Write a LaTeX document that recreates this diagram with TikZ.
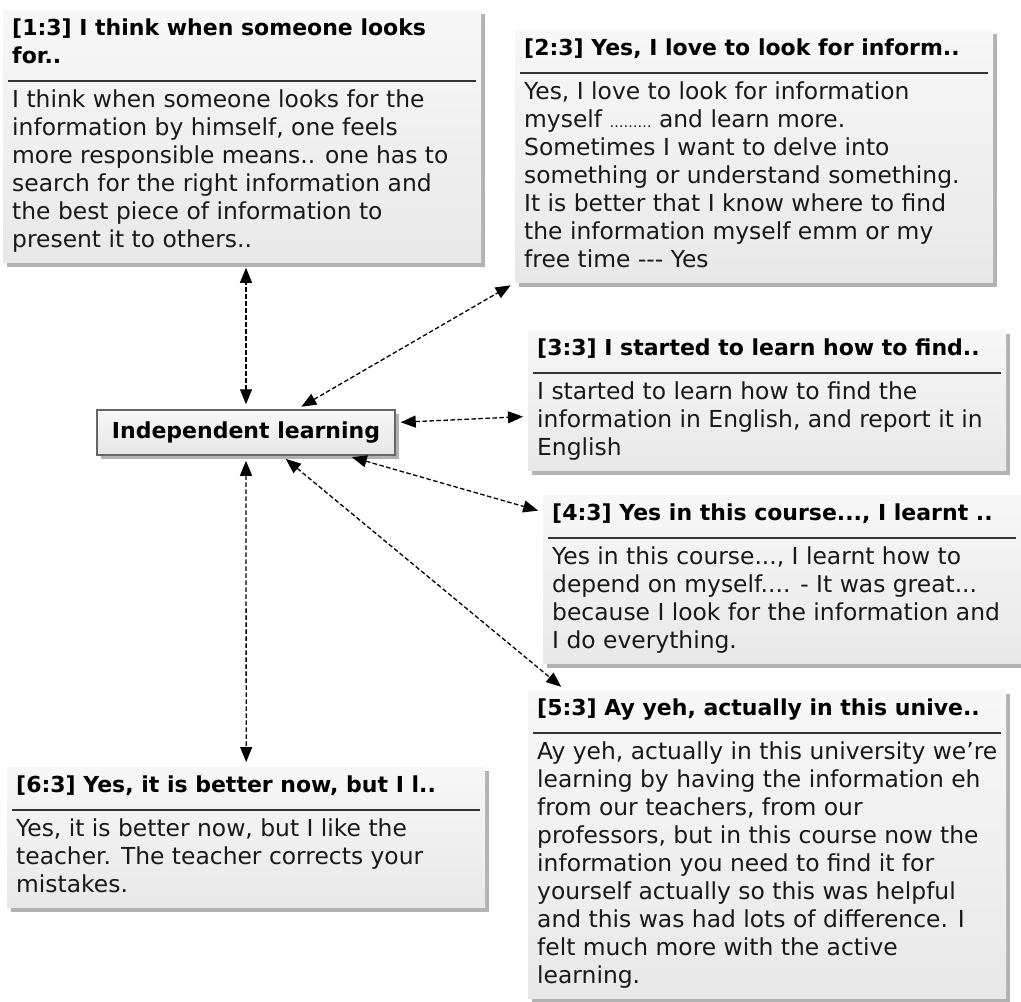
\documentclass[tikz,border=0pt]{standalone}
\usepackage{fontspec}
\setmainfont{DejaVu Sans}
\usetikzlibrary{arrows.meta, positioning, shadows}

% header of a quote box, the rule that ends it, and the end of the body
\newcommand{\qhead}{\fontsize{22}{28}\selectfont\bfseries\spaceskip=0pt\xspaceskip=0pt\strut}
\newcommand{\qsplit}{\strut\par\vspace{8pt}\nointerlineskip
	\moveleft4pt\vbox{\color{black!80}\hrule width \dimexpr\hsize+8pt\relax height 1.8pt}%
	\nointerlineskip\vspace{6pt}\fontsize{23.4}{28}\selectfont\mdseries
	\spaceskip=0pt\xspaceskip=0pt\color{black!90}\strut}
\newcommand{\qend}{\rule[-10pt]{0pt}{1pt}\par}

\begin{document}
\begin{tikzpicture}[
		x=1pt, y=-1pt,
		quote/.style={anchor=north west, top color=black!3, bottom color=black!9,
			drop shadow={shadow xshift=4pt, shadow yshift=-4pt, fill=black!60},
			inner xsep=9pt, inner ysep=5.5pt, text width=460pt, align=left},
		hub/.style={draw=black!60, line width=1.5pt, top color=black!3, bottom color=black!10,
			drop shadow={shadow xshift=4pt, shadow yshift=-4pt, fill=black!60},
			minimum width=298pt, minimum height=45pt, font=\fontsize{22}{26}\selectfont\bfseries},
		link/.style={{Triangle[length=15pt,width=12pt]}-{Triangle[length=15pt,width=12pt]},
			line width=1.3pt, dash pattern=on 4.5pt off 2.5pt, shorten >=5pt, shorten <=5pt}
		]
		\useasboundingbox (0,0) rectangle (1021,1002);
		
		% Quote boxes
		\node[quote] (q1) at (3,10) {\qhead [1:3] I think when someone looks\\for..\qsplit
			I think when someone looks for the\\information by himself, one feels\\more responsible means.. one has to\\search for the right information and\\the best piece of information to\\present it to others..\qend};
		\node[quote] (q2) at (515,30) {\qhead [2:3] Yes, I love to look for inform..\qsplit
			Yes, I love to look for information\\myself {\fontsize{14}{14}\selectfont ………} and learn more.\\Sometimes I want to delve into\\something or understand something.\\It is better that I know where to find\\the information myself emm or my\\free time -{}-{}- Yes\qend};
		\node[quote] (q3) at (528,330) {\qhead [3:3] I started to learn how to find..\qsplit
			I started to learn how to find the\\information in English, and report it in\\English\qend};
		\node[quote] (q4) at (543,495) {\qhead [4:3] Yes in this course..., I learnt ..\qsplit
			Yes in this course..., I learnt how to\\depend on myself.... - It was great...\\because I look for the information and\\I do everything.\qend};
		\node[quote] (q5) at (528,690) {\qhead [5:3] Ay yeh, actually in this unive..\qsplit
			Ay yeh, actually in this university we're\\learning by having the information eh\\from our teachers, from our\\professors, but in this course now the\\information you need to find it for\\yourself actually so this was helpful\\and this was had lots of difference. I\\felt much more with the active\\learning.\qend};
		\node[quote] (q6) at (7,767) {\qhead [6:3] Yes, it is better now, but I l..\qsplit
			Yes, it is better now, but I like the\\teacher. The teacher corrects your\\mistakes.\qend};
		
		% Central code
		\node[hub] (hub) at (246,432.5) {Independent learning};
		
		% Links
		\draw[link] (hub.north) -- (hub.north |- q1.south);
		\draw[link] ([xshift=51pt]hub.north) -- (q2.south west);
		\draw[link] ([yshift=10pt]hub.east) -- ([yshift=-16pt]q3.west);
		\draw[link] ([xshift=101pt]hub.south) -- ([yshift=-17pt]q4.north west);
		\draw[link] ([xshift=36pt]hub.south) -- ([xshift=37pt]q5.north west);
		\draw[link] (hub.south) -- (q6.north);
		
	\end{tikzpicture}
\end{document}
